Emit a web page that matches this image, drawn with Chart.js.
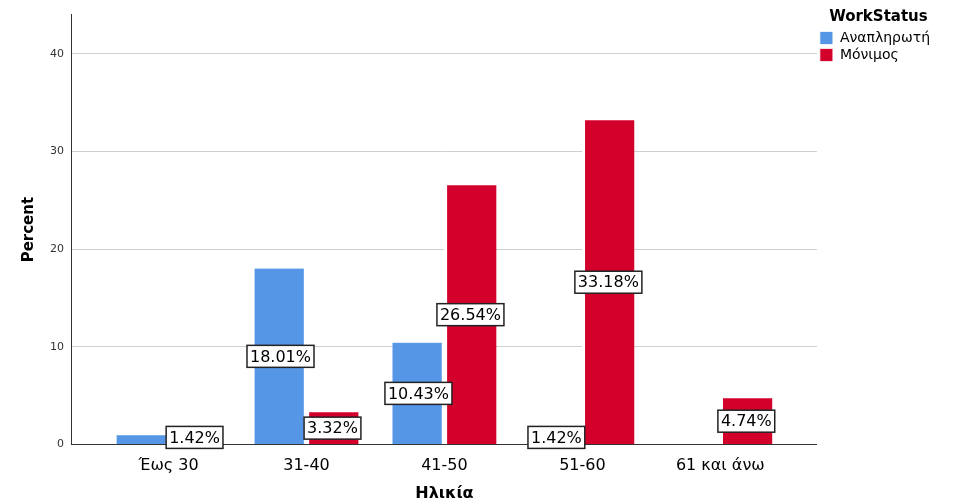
<!DOCTYPE html>
<html><head><meta charset="utf-8">
<script src="https://cdn.jsdelivr.net/npm/chart.js@4"></script>
<style>html,body{margin:0;padding:0;background:#fff}#w{width:953px;height:503px}</style>
</head><body><div id="w"><canvas id="c"></canvas></div>
<script>
const categories = ["Έως 30","31-40","41-50","51-60","61 και άνω"];
const seriesNames = ["Αναπληρωτή","Μόνιμος"];
const blueValues = [0.95, 18.01, 10.43, 1.42, 0];
const redValues = [1.42, 3.32, 26.54, 33.18, 4.74];
const blueLabels = [null, "18.01%", "10.43%", "1.42%", null];
const redLabels = ["1.42%", "3.32%", "26.54%", "33.18%", "4.74%"];
const yTicks = [0,10,20,30,40];

const labelPlugin = {
  id:'lbl',
  afterDatasetsDraw(chart){
    const ctx = chart.ctx;
    const sets = [blueLabels, redLabels];
    ctx.save();
    ctx.font = '16px "DejaVu Sans"';
    ctx.textAlign='center'; ctx.textBaseline='middle';
    sets.forEach((labs,di)=>{
      const meta = chart.getDatasetMeta(di);
      meta.data.forEach((bar,i)=>{
        if(!labs[i]) return;
        const y = (bar.y + bar.base)/2;
        const w = ctx.measureText(labs[i]).width + 6, h = 22;
        ctx.fillStyle='#fff'; ctx.fillRect(bar.x-w/2, y-h/2, w, h);
        ctx.strokeStyle='#222'; ctx.lineWidth=1.5; ctx.strokeRect(bar.x-w/2, y-h/2, w, h);
        ctx.fillStyle='#000'; ctx.fillText(labs[i], bar.x, y+1);
      });
    });
    ctx.restore();
  }
};

new Chart(document.getElementById('c'), {
  type:'bar',
  data:{
    datasets:[
      {label:seriesNames[0], data:blueValues.map((v,i)=>({x:i,y:v})), backgroundColor:'#5596E6', barThickness:52, borderColor:'#fff', borderWidth:{left:0,right:3,top:0,bottom:0}, borderSkipped:false},
      {label:seriesNames[1], data:redValues.map((v,i)=>({x:i,y:v})), backgroundColor:'#D4002C', barThickness:52, borderColor:'#fff', borderWidth:{left:3,right:0,top:0,bottom:0}, borderSkipped:false}
    ]
  },
  options:{
    responsive:true, maintainAspectRatio:false, animation:false,
    layout:{padding:{top:2,right:13,left:16,bottom:0}},
    plugins:{
      tooltip:{enabled:false},
      legend:{position:'right', align:'start',
        title:{display:true, text:'WorkStatus', font:{family:'DejaVu Sans', size:15, weight:'bold'}, color:'#000', padding:{top:8,bottom:0}},
        labels:{boxWidth:13, boxHeight:13, padding:3, font:{family:'DejaVu Sans', size:14}, color:'#000'}}
    },
    scales:{
      x:{type:'linear', min:-0.7, max:4.7, offset:false,
        afterBuildTicks(s){ s.ticks = categories.map((_,i)=>({value:i})); },
        ticks:{callback:(v)=>categories[v], font:{family:'DejaVu Sans', size:16}, color:'#000', padding:4},
        grid:{display:false},
        border:{color:'#333'},
        title:{display:true, text:'Ηλικία', font:{family:'DejaVu Sans', size:16, weight:'bold'}, color:'#000', padding:{top:4,bottom:0}}
      },
      y:{min:0, max:44,
        afterBuildTicks(s){ s.ticks = yTicks.map(v=>({value:v})); },
        ticks:{font:{family:'DejaVu Sans', size:11}, color:'#333', padding:8},
        grid:{color:'#cfcfcf', drawTicks:false},
        border:{color:'#333'},
        title:{display:true, text:'Percent', font:{family:'DejaVu Sans', size:15, weight:'bold'}, color:'#000'}
      }
    }
  },
  plugins:[labelPlugin]
});
</script></body></html>
